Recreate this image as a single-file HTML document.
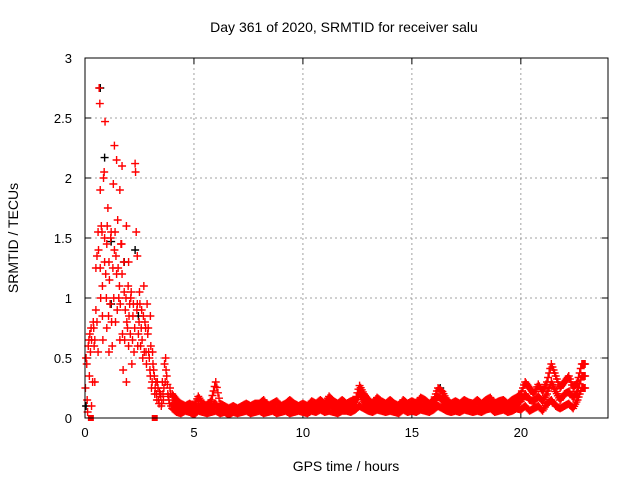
<!DOCTYPE html>
<html><head><meta charset="utf-8"><style>
body{margin:0;background:#fff}
svg{display:block;font-family:"Liberation Sans",sans-serif}
</style></head><body>
<svg id="chart" width="640" height="480">
<rect x="0" y="0" width="640" height="480" fill="#fff"/>
<text x="344" y="32" text-anchor="middle" font-size="14">Day 361 of 2020, SRMTID for receiver salu</text>
<text x="346" y="471" text-anchor="middle" font-size="14">GPS time / hours</text>
<text transform="translate(18,238) rotate(-90)" text-anchor="middle" font-size="14">SRMTID / TECUs</text>
<g id="grid"></g><g id="axes"></g><g id="marks"></g>
<rect x="85" y="58" width="523" height="360" fill="none" stroke="#000" stroke-width="1"/>
</svg>
<script>
const xTicks=[0,5,10,15,20];
const yTicks=[0,0.5,1,1.5,2,2.5,3];
const yTickLabels=["0","0.5","1","1.5","2","2.5","3"];
const earlyT=[0.05,0.1,0.12,0.15,0.2,0.25,0.3,0.35,0.4,0.45,0.5,0.5,0.55,0.6,0.6,0.65,0.68,0.7,0.72,0.75,0.8,0.8,0.85,0.88,0.9,0.92,0.95,1.0,1.0,1.05,1.1,1.1,1.15,1.2,1.25,1.3,1.35,1.35,1.4,1.45,1.45,1.5,1.55,1.6,1.6,1.65,1.7,1.7,1.75,1.8,1.85,1.9,1.9,1.95,2.0,2.0,2.05,2.1,2.15,2.2,2.25,2.3,2.32,2.35,2.4,2.4,2.45,2.5,2.55,2.6,2.65,2.7,2.75,2.8,2.85,2.9,2.95,3.0,3.0,3.05,3.1,3.15,3.2,3.25,3.3,3.35,3.4,3.45,3.5,3.55,3.6,3.65,3.7,3.75,3.8,3.85,3.9,3.95,0.02,0.08,0.3,0.45];
const earlyV=[0.5,0.15,0.05,0.6,0.35,0.55,0.65,0.3,0.75,0.65,1.25,0.9,1.35,0.55,1.55,2.75,2.62,1.9,1.0,1.6,1.1,0.85,2.0,2.05,1.5,2.47,1.2,1.45,0.75,1.75,1.3,0.55,0.95,1.55,0.6,1.95,2.27,1.4,0.8,2.15,1.2,1.65,1.0,1.9,0.65,1.45,2.1,1.2,0.4,1.05,0.9,0.3,1.6,0.75,1.3,0.6,0.95,1.0,0.45,0.85,0.55,2.12,2.05,1.55,1.35,0.95,0.7,1.05,0.6,0.9,0.5,1.1,0.8,0.55,0.95,0.75,0.5,0.35,0.85,0.25,0.55,0.4,0.2,0.3,0.15,0.25,0.12,0.2,0.1,0.3,0.15,0.45,0.5,0.35,0.2,0.15,0.25,0.1,0.25,0.45,0.1,0.3];
const extraT=[0.55,0.62,0.7,0.78,0.82,0.9,0.98,1.02,1.08,1.12,1.18,1.22,1.28,1.32,1.38,1.42,1.48,1.52,1.58,1.62,1.68,1.72,1.78,1.82,1.88,1.92,1.98,2.02,2.08,2.12,2.18,2.22,2.28,2.38,2.42,2.48,2.52,2.58,2.62,2.68,2.72,2.78,2.82,2.88,2.92,2.98,3.02,3.08,3.12,3.18,3.22,3.28,3.32,3.38,3.42,3.48,3.52,3.58,3.62,3.68,3.72,3.78,3.82,3.88,3.92,0.18,0.22,0.28,0.38,0.42];
const extraV=[0.8,1.4,1.25,1.55,0.65,1.3,1.0,1.6,0.85,1.15,1.5,0.8,1.25,1.0,1.55,1.35,0.9,1.25,1.1,0.95,1.45,0.7,1.3,0.65,1.0,0.8,1.1,0.85,0.7,1.05,0.65,0.95,0.75,0.9,0.6,0.8,0.95,0.75,0.65,0.85,0.55,0.75,0.45,0.7,0.55,0.4,0.6,0.3,0.45,0.35,0.25,0.2,0.3,0.15,0.22,0.18,0.12,0.2,0.25,0.3,0.4,0.28,0.18,0.12,0.2,0.65,0.7,0.75,0.8,0.6];
const baseStart=4.0, baseStep=0.2;
const baseHi=[.2,.15,.12,.1,.12,.1,.18,.12,.1,.15,.3,.12,.1,.08,.1,.08,.1,.12,.1,.12,.12,.15,.1,.12,.14,.1,.12,.15,.12,.1,.12,.1,.14,.12,.15,.12,.18,.14,.12,.15,.12,.14,.15,.27,.2,.15,.12,.17,.14,.12,.15,.12,.1,.15,.12,.14,.12,.17,.15,.12,.15,.25,.22,.15,.12,.14,.12,.15,.13,.12,.15,.12,.15,.17,.12,.14,.15,.12,.15,.17,.2,.3,.25,.2,.28,.22,.3,.45,.35,.25,.3,.35,.25,.3,.45];
const baseMid=[.12,.09,.08,.08,.08,.07,.1,.08,.07,.09,.12,.07,.07,.05,.07,.06,.07,.09,.07,.08,.09,.1,.08,.09,.09,.07,.09,.1,.08,.08,.09,.07,.1,.09,.11,.09,.12,.1,.08,.1,.09,.1,.11,.2,.14,.1,.09,.12,.1,.08,.1,.09,.07,.11,.09,.1,.09,.12,.1,.09,.11,.18,.15,.1,.09,.1,.09,.11,.1,.09,.1,.09,.11,.12,.09,.1,.11,.09,.1,.12,.14,.2,.15,.14,.18,.14,.2,.3,.22,.15,.2,.22,.17,.22,.35];
const baseLo=[.08,.05,.04,.06,.05,.03,.06,.05,.04,.05,.06,.04,.05,.03,.05,.04,.05,.06,.04,.05,.06,.04,.05,.06,.04,.05,.06,.04,.05,.06,.05,.04,.06,.05,.07,.05,.06,.05,.04,.06,.06,.05,.07,.1,.08,.06,.05,.07,.06,.05,.06,.05,.04,.07,.05,.06,.05,.07,.06,.05,.07,.1,.08,.06,.05,.06,.05,.07,.06,.05,.06,.05,.07,.08,.05,.06,.07,.05,.06,.08,.07,.1,.06,.08,.1,.06,.12,.15,.1,.08,.1,.12,.08,.15,.25];
const blackT=[0.7,0.9,1.2,2.3,1.8,1.2,2.45,22.9,16.3,0.05];
const blackV=[2.75,2.17,1.47,1.4,1.3,0.95,0.85,0.45,0.25,0.1];
const zeroT=[0.27,3.2];
const zeroV=[0,0];

const NS="http://www.w3.org/2000/svg";
const X0=85,X1=608,Y0=418,Y1=58;
function xs(t){return X0+t*(X1-X0)/24;}
function ys(v){return Y0-v*(Y0-Y1)/3;}
const grid=document.getElementById('grid'),axes=document.getElementById('axes'),marks=document.getElementById('marks');
function mk(tag,attrs,parent){const e=document.createElementNS(NS,tag);for(const k in attrs)e.setAttribute(k,attrs[k]);parent.appendChild(e);return e;}
xTicks.forEach((t,i)=>{
  const x=xs(t);
  if(t>0){const g=mk('line',{x1:x,x2:x,y1:Y1,y2:Y0,stroke:'#a0a0a0','stroke-dasharray':'2,3'},grid);
  
  }
  mk('line',{x1:x,x2:x,y1:Y0,y2:Y0-6,stroke:'#000'},axes);
  mk('line',{x1:x,x2:x,y1:Y1,y2:Y1+6,stroke:'#000'},axes);
  const l=mk('text',{x:x,y:Y0+19,'text-anchor':'middle','font-size':'13'},axes);
  l.textContent=String(t);
  
  
});
yTicks.forEach((v,i)=>{
  const y=ys(v);
  if(v>0&&v<3){const g=mk('line',{x1:X0,x2:X1,y1:y,y2:y,stroke:'#a0a0a0','stroke-dasharray':'2,3'},grid);
  
  }
  mk('line',{x1:X0,x2:X0+6,y1:y,y2:y,stroke:'#000'},axes);
  mk('line',{x1:X1,x2:X1-6,y1:y,y2:y,stroke:'#000'},axes);
  const l=mk('text',{x:X0-13,y:y+5,'text-anchor':'end','font-size':'13'},axes);
  l.textContent=yTickLabels[i];
  
  
});
function plus(t,v,color,name){
  const x=xs(t),y=ys(v);
  const p=mk('path',{d:`M${x-4},${y}H${x+4}M${x},${y-4}V${y+4}`,stroke:color,'stroke-width':'1.4',fill:'none'},marks);
  
  
}
blackT.forEach((t,i)=>plus(t,blackV[i],'#000','black-point'));
earlyT.forEach((t,i)=>plus(t,earlyV[i],'#ff0000','red-point'));
extraT.forEach((t,i)=>plus(t,extraV[i],'#ff0000','red-point'));
[baseLo,baseMid,baseHi].forEach(arr=>arr.forEach((v,i)=>{
  const n=arr[i+1]!==undefined?arr[i+1]:v;
  for(let k=0;k<4;k++){
    plus(baseStart+i*baseStep+k*0.05,v+(n-v)*k/4,'#ff0000','red-point');
  }
}));
zeroT.forEach((t,i)=>{
  const r=mk('rect',{x:xs(t)-3,y:ys(zeroV[i])-3,width:6,height:6,fill:'#ff0000'},marks);
  
  
});
</script>
</body></html>
